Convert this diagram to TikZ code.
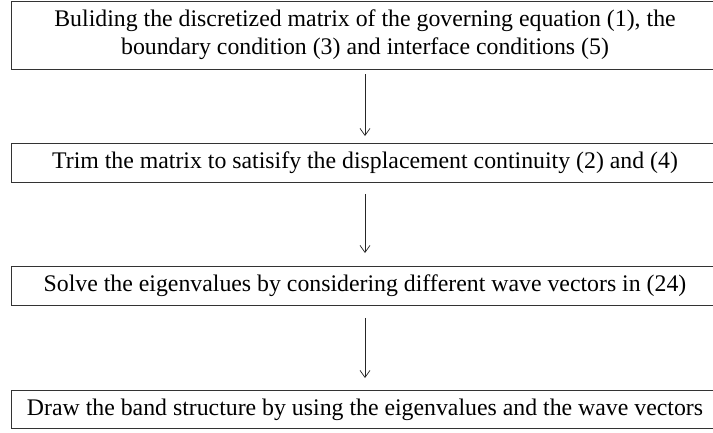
\documentclass[tikz,border=0pt]{standalone}
\usepackage{fontspec}
\setmainfont{Liberation Serif}
\usetikzlibrary{positioning, arrows.meta}
\tikzset{
  stepbox/.style={draw=black!80, line width=0.8pt, minimum width=708pt,
    inner sep=0pt, align=center, anchor=north,
    font=\fontsize{23.8}{28}\selectfont},
  flow/.style={-{Straight Barb[length=7pt,width=10pt]}, line width=0.7pt, black!85},
}
\begin{document}
\begin{tikzpicture}[x=1pt,y=1pt]
  \useasboundingbox (0,0) rectangle (713,-432);
  % the four steps
  \node[stepbox, minimum height=68pt] (build) at (365,-0.5)
    {Buliding the discretized matrix of the governing equation (1), the\\
     boundary condition (3) and interface conditions (5)};
  \node[stepbox, minimum height=39pt] (trim) at (365,-143)
    {Trim the matrix to satisify the displacement continuity (2) and (4)};
  \node[stepbox, minimum height=39pt] (solve) at (365,-266)
    {Solve the eigenvalues by considering different wave vectors in (24)};
  \node[stepbox, minimum height=38pt] (band) at (365,-390)
    {Draw the band structure by using the eigenvalues and the wave vectors};
  % arrows between them
  \draw[flow, shorten <=5pt, shorten >=7pt] (build.south) -- (trim.north);
  \draw[flow, shorten <=11pt, shorten >=13pt] (trim.south) -- (solve.north);
  \draw[flow, shorten <=12pt, shorten >=12pt] (solve.south) -- (band.north);
\end{tikzpicture}
\end{document}
